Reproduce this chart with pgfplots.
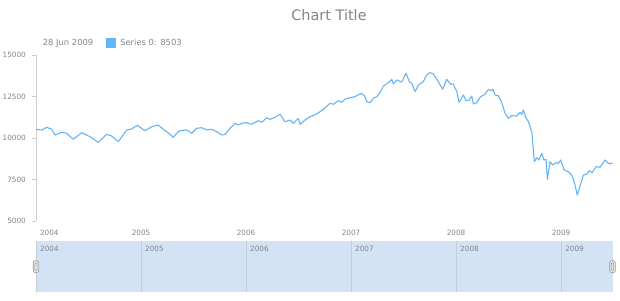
\documentclass[border=0pt]{standalone}
\usepackage{pgfplots}
\pgfplotsset{compat=1.18}
\usepackage{fontspec}
\setmainfont{DejaVu Sans}
\definecolor{txt}{HTML}{7C868E}
\definecolor{ser}{HTML}{64B5F6}
\definecolor{axc}{HTML}{CECECE}
\definecolor{scr}{HTML}{D3E3F5}
\definecolor{scrl}{HTML}{C3CDD8}
\definecolor{hdl}{HTML}{E6E6E6}
\definecolor{hdlb}{HTML}{9A9A9A}
\pgfplotstableread{
x y
2004.000 10520
2004.054 10482
2004.102 10645
2004.150 10524
2004.181 10181
2004.245 10343
2004.292 10283
2004.355 9922
2004.435 10319
2004.514 10078
2004.593 9741
2004.673 10223
2004.721 10120
2004.784 9777
2004.864 10482
2004.911 10542
2004.965 10765
2005.038 10440
2005.102 10681
2005.165 10783
2005.212 10524
2005.245 10379
2005.308 10042
2005.340 10283
2005.371 10440
2005.435 10482
2005.483 10283
2005.530 10584
2005.578 10620
2005.626 10482
2005.673 10524
2005.721 10379
2005.769 10181
2005.800 10223
2005.848 10584
2005.895 10885
2005.927 10783
2005.959 10885
2006.007 10922
2006.054 10825
2006.117 11042
2006.150 10946
2006.197 11223
2006.229 11126
2006.276 11247
2006.324 11428
2006.371 10982
2006.419 11084
2006.450 10885
2006.498 11187
2006.514 10825
2006.562 11084
2006.610 11283
2006.673 11446
2006.736 11729
2006.800 12090
2006.831 12030
2006.879 12247
2006.911 12150
2006.943 12349
2006.990 12428
2007.038 12488
2007.070 12608
2007.102 12693
2007.133 12488
2007.150 12187
2007.181 12127
2007.213 12392
2007.245 12488
2007.276 12729
2007.308 13132
2007.355 13331
2007.388 13536
2007.403 13253
2007.435 13494
2007.483 13373
2007.524 13898
2007.555 13392
2007.578 13295
2007.610 12789
2007.641 13193
2007.688 13392
2007.721 13795
2007.752 13934
2007.784 13855
2007.822 13494
2007.873 12934
2007.911 13536
2007.950 13235
2007.974 13253
2008.007 12789
2008.029 12150
2008.070 12590
2008.095 12247
2008.127 12289
2008.150 12530
2008.165 12048
2008.197 12127
2008.229 12451
2008.245 12530
2008.276 12633
2008.308 12934
2008.331 12849
2008.350 12934
2008.371 12590
2008.403 12548
2008.435 12127
2008.467 11488
2008.498 11187
2008.530 11343
2008.578 11325
2008.610 11548
2008.626 11428
2008.641 11687
2008.664 11247
2008.689 10982
2008.721 10379
2008.746 8572
2008.769 8813
2008.790 8675
2008.816 9078
2008.838 8675
2008.857 8717
2008.870 7512
2008.895 8572
2008.921 8373
2008.952 8512
2008.974 8476
2008.997 8675
2009.029 8072
2009.070 7970
2009.102 7771
2009.127 7307
2009.155 6566
2009.181 7108
2009.213 7771
2009.245 7813
2009.270 8030
2009.295 7910
2009.333 8271
2009.371 8235
2009.419 8675
2009.450 8476
2009.470 8440
2009.490 8503
}\series
\begin{document}
\begin{tikzpicture}[x=1bp,y=1bp]
\useasboundingbox (0,0) rectangle (620,300);
\node[font=\fontsize{14.5}{16}\selectfont, text=txt] at (329,285) {Chart Title};
\node[font=\fontsize{8.4}{10}\selectfont, text=txt, anchor=west, inner sep=0pt] at (42.7,256.7) {28 Jun 2009};
\begin{axis}[
  at={(36bp,79bp)}, anchor=south west, scale only axis,
  width=576.5bp, height=166bp,
  xmin=2004, xmax=2009.49, ymin=5000, ymax=15000,
  axis x line*=bottom, axis y line*=left, axis line style={-},
  x axis line style={draw=none}, y axis line style={draw=axc, line width=0.8bp},
  ytick={5000,7500,10000,12500,15000},
  xtick={2004,2005,2006,2007,2008,2009},
  xticklabels={\makebox[0pt][l]{\hspace{4bp}2004},2005,2006,2007,2008,2009},
  tick align=outside, major tick length=4bp,
  ytick style={draw=axc, line width=0.8bp}, xtick style={draw=none},
  ticklabel style={font=\fontsize{7.3}{8}\selectfont, text=txt},
  yticklabel style={anchor=east, inner sep=0pt, xshift=-6bp},
  xticklabel style={anchor=north, inner sep=0pt, yshift=-5bp},
  /pgf/number format/assume math mode=true, /pgf/number format/1000 sep={},
  scaled y ticks=false,
  legend style={at={(0.1214,1.0705)}, anchor=west, draw=none, fill=none,
    inner sep=0pt, font=\fontsize{8.4}{10}\selectfont, text=txt,
    nodes={inner sep=0pt}, column sep=0pt},
  legend image code/.code={\fill[ser] (0bp,-4.5bp) rectangle (9bp,4.5bp);},
]
\addplot[ser, line width=1.1bp, line join=round, mark=none] table[x=x,y=y] {\series};
\addlegendentry{\hspace{4bp}Series 0: 8503}
\end{axis}
\begin{axis}[
  at={(36bp,7.7bp)}, anchor=south west, scale only axis,
  width=576.5bp, height=51.3bp,
  xmin=2004, xmax=2009.49, ymin=0, ymax=1,
  axis line style={draw=none},
  axis background/.style={fill=scr},
  ytick=\empty,
  xtick={2004,2005,2006,2007,2008,2009},
  xticklabels={2004,2005,2006,2007,2008,2009},
  xmajorgrids, grid style={draw=scrl, line width=0.6bp},
  major tick length=0pt, xtick style={draw=none},
  xticklabel pos=upper,
  xticklabel style={anchor=north west, inner sep=0pt, xshift=4bp, yshift=-4.5bp,
    font=\fontsize{7.3}{8}\selectfont, text=txt},
  clip=false,
]
\node[draw=hdlb, fill=hdl, rounded corners=2bp, minimum width=5.6bp, minimum height=12bp, inner sep=0pt, line width=0.6bp] at (rel axis cs:0,0.5) {};
\node[draw=hdlb, rounded corners=1bp, minimum width=2.4bp, minimum height=8bp, inner sep=0pt, line width=0.5bp] at (rel axis cs:0,0.5) {};
\node[draw=hdlb, fill=hdl, rounded corners=2bp, minimum width=5.6bp, minimum height=12bp, inner sep=0pt, line width=0.6bp] at (rel axis cs:1,0.5) {};
\node[draw=hdlb, rounded corners=1bp, minimum width=2.4bp, minimum height=8bp, inner sep=0pt, line width=0.5bp] at (rel axis cs:1,0.5) {};
\end{axis}
\end{tikzpicture}
\end{document}
